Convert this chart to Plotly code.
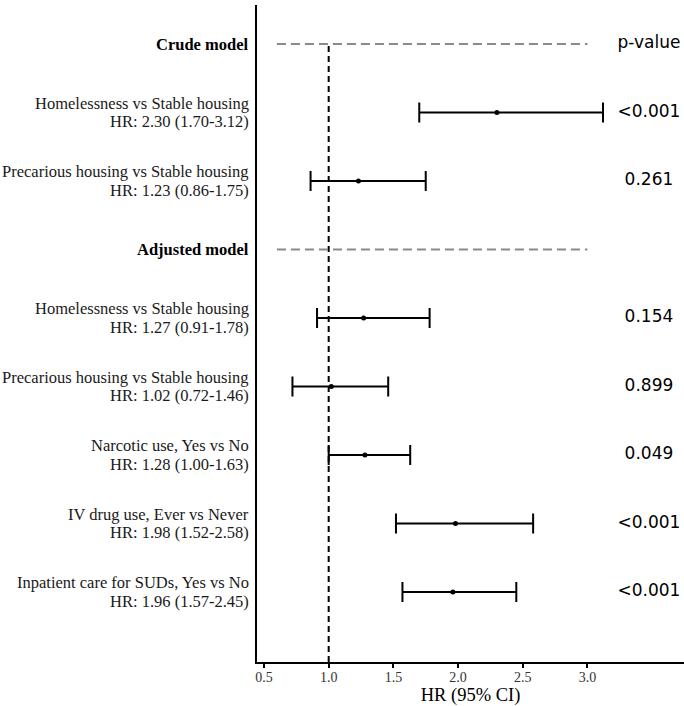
import plotly.graph_objects as go

# ---- data ----
row_labels = ["Crude model",
              "Homelessness vs Stable housing",
              "Precarious housing vs Stable housing",
              "Adjusted model",
              "Homelessness vs Stable housing",
              "Precarious housing vs Stable housing",
              "Narcotic use, Yes vs No",
              "IV drug use, Ever vs Never",
              "Inpatient care for SUDs, Yes vs No"]
is_header = [True, False, False, True, False, False, False, False, False]
hr = [None, 2.30, 1.23, None, 1.27, 1.02, 1.28, 1.98, 1.96]
ci_low = [None, 1.70, 0.86, None, 0.91, 0.72, 1.00, 1.52, 1.57]
ci_high = [None, 3.12, 1.75, None, 1.78, 1.46, 1.63, 2.58, 2.45]
p_values = ["p-value", "<0.001", "0.261", "", "0.154", "0.899", "0.049", "<0.001", "<0.001"]
x_ticks = [0.5, 1.0, 1.5, 2.0, 2.5, 3.0]
x_title = "HR (95% CI)"

n = len(row_labels)
ypos = [n - i for i in range(n)]  # 9 .. 1

SERIF = "Liberation Serif, Times New Roman, serif"
SANS = "DejaVu Sans, sans-serif"

fig = go.Figure()

# estimates with CIs
xs, ys, ep, em = [], [], [], []
for i in range(n):
    if hr[i] is not None:
        xs.append(hr[i]); ys.append(ypos[i])
        ep.append(ci_high[i] - hr[i]); em.append(hr[i] - ci_low[i])

fig.add_trace(go.Scatter(
    x=xs, y=ys, mode="markers",
    marker=dict(color="black", size=5),
    error_x=dict(type="data", symmetric=False, array=ep, arrayminus=em,
                 color="black", thickness=2, width=10),
    showlegend=False, hoverinfo="skip"))

# p-values column
fig.add_trace(go.Scatter(
    x=[3.475] * n, y=ypos, mode="text", text=p_values,
    textposition="middle center",
    textfont=dict(family=SANS, size=17, color="black"),
    showlegend=False, hoverinfo="skip"))

ymin, ymax = -0.02, 9.57

# reference line at HR = 1
fig.add_shape(type="line", xref="x", yref="y", x0=1, x1=1, y0=ymin, y1=ypos[0],
              line=dict(color="black", width=2, dash="6px,4px"), layer="below")

# header dashed lines
for i in range(n):
    if is_header[i]:
        fig.add_shape(type="line", xref="x", yref="y", x0=0.6, x1=3.0,
                      y0=ypos[i], y1=ypos[i],
                      line=dict(color="#8a8a8a", width=2, dash="9px,5px"), layer="below")

# left labels
FS = 16.5
for i in range(n):
    if is_header[i]:
        fig.add_annotation(xref="paper", x=0, yref="y", y=ypos[i], xanchor="right",
                           yanchor="middle", xshift=-6, showarrow=False,
                           text="<b>" + row_labels[i] + "</b>",
                           font=dict(family=SERIF, size=FS, color="black"))
    else:
        line2 = "HR: %.2f (%.2f-%.2f)" % (hr[i], ci_low[i], ci_high[i])
        fig.add_annotation(xref="paper", x=0, yref="y", y=ypos[i], xanchor="right",
                           yanchor="middle", xshift=-6, yshift=9.3, showarrow=False,
                           text=row_labels[i],
                           font=dict(family=SERIF, size=FS, color="#1a1a1a"))
        fig.add_annotation(xref="paper", x=0, yref="y", y=ypos[i], xanchor="right",
                           yanchor="middle", xshift=-6, yshift=-9.3, showarrow=False,
                           text=line2,
                           font=dict(family=SERIF, size=FS, color="#1a1a1a"))

fig.update_layout(
    width=684, height=706,
    margin=dict(l=257, r=0, t=5, b=44),
    paper_bgcolor="white", plot_bgcolor="white",
    xaxis=dict(range=[0.446, 3.746], tickvals=x_ticks,
               ticktext=["%.1f" % v for v in x_ticks],
               showline=True, linecolor="black", linewidth=2,
               ticks="outside", ticklen=4, tickwidth=1.5, tickcolor="black",
               ticklabelstandoff=-3,
               showgrid=False, zeroline=False,
               tickfont=dict(family=SERIF, size=14, color="#333333"),
               title=dict(text=x_title, font=dict(family=SERIF, size=18.5, color="black"),
                          standoff=0)),
    yaxis=dict(range=[ymin, ymax], showline=True, linecolor="black", linewidth=2,
               showticklabels=False, ticks="", showgrid=False, zeroline=False),
)

fig.write_html("out.html")
